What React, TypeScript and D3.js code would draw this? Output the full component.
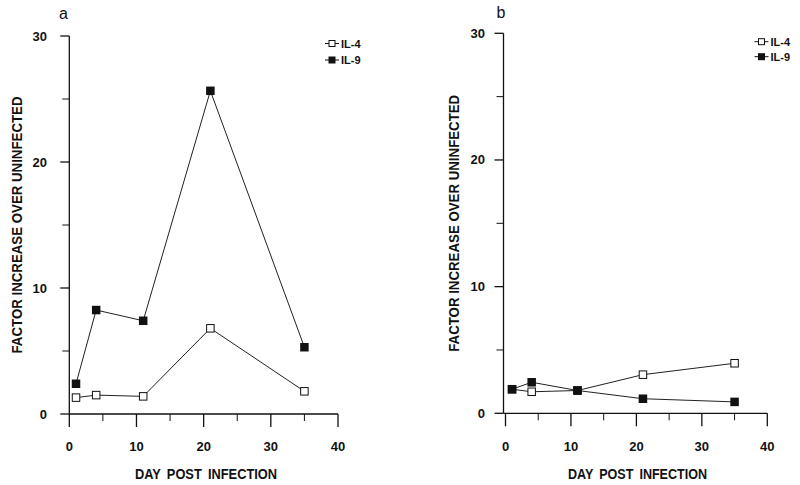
import React from 'react';
import * as d3 from 'd3';

const days = [1, 4, 11, 21, 35];
const il4A = [1.3, 1.5, 1.4, 6.8, 1.8];
const il9A = [2.4, 8.25, 7.4, 25.65, 5.3];
const il4B = [1.9, 1.7, 1.8, 3.05, 3.95];
const il9B = [1.9, 2.45, 1.8, 1.15, 0.9];
const xTicks = [0, 10, 20, 30, 40];
const xMinor = [5, 15, 25, 35];
const yTicks = [0, 10, 20, 30];
const yMinor = [5, 15, 25];
const seriesNames = ['IL-4', 'IL-9'];
const panelLabels = ['a', 'b'];
const xTitle = 'DAY POST INFECTION';
const yTitle = 'FACTOR INCREASE OVER UNINFECTED';

const FONT = '"Liberation Sans", Arial, Helvetica, sans-serif';

type PanelProps = {
  il4: number[];
  il9: number[];
  label: string;
  x0: number; x1: number; y0: number; y1: number;
  axisX: number;
  yLabelX: number;
  yTitleX: number;
  xTitleX: number;
  xTitleW: number;
  legX: number; legY: number; legDy: number;
  labelX: number; labelY: number;
};

function Panel(p: PanelProps) {
  const x = d3.scaleLinear().domain([0, 40]).range([p.x0, p.x1]);
  const y = d3.scaleLinear().domain([0, 30]).range([p.y0, p.y1]);
  const line = d3.line<[number, number]>().x(d => x(d[0])).y(d => y(d[1]));
  const s4 = days.map((d, i) => [d, p.il4[i]] as [number, number]);
  const s9 = days.map((d, i) => [d, p.il9[i]] as [number, number]);
  const yTitleY = (y(0) + y(30)) / 2 + 13;
  const ms = 7.5;
  return (
    <g fontFamily={FONT} fill="#111">
      {/* panel label */}
      <text x={p.labelX} y={p.labelY} fontSize={16}>{p.label}</text>
      {/* y axis */}
      <line x1={p.axisX} x2={p.axisX} y1={y(30)} y2={y(0)} stroke="#111" strokeWidth={1.3} />
      {yTicks.map(t => (
        <line key={'yt' + t} x1={p.axisX - 9} x2={p.axisX} y1={y(t)} y2={y(t)} stroke="#111" strokeWidth={1.3} />
      ))}
      {yMinor.map(t => (
        <line key={'ym' + t} x1={p.axisX - 7} x2={p.axisX} y1={y(t)} y2={y(t)} stroke="#111" strokeWidth={1} />
      ))}
      {yTicks.map(t => (
        <text key={'yl' + t} x={p.yLabelX} y={y(t) + 4.5} fontSize={13} fontWeight="bold" textAnchor="end">{t}</text>
      ))}
      {/* x axis */}
      <line x1={p.axisX} x2={x(40)} y1={y(0)} y2={y(0)} stroke="#111" strokeWidth={1.3} />
      {xTicks.map(t => (
        <line key={'xt' + t} x1={x(t)} x2={x(t)} y1={y(0)} y2={y(0) + 13} stroke="#111" strokeWidth={1.3} />
      ))}
      {xMinor.map(t => (
        <line key={'xm' + t} x1={x(t)} x2={x(t)} y1={y(0)} y2={y(0) + 7} stroke="#111" strokeWidth={1} />
      ))}
      {xTicks.map(t => (
        <text key={'xl' + t} x={x(t)} y={451} fontSize={13} fontWeight="bold" textAnchor="middle">{t}</text>
      ))}
      {/* titles */}
      <text x={p.xTitleX} y={479} fontSize={14.5} fontWeight="bold" textAnchor="middle"
        textLength={p.xTitleW} lengthAdjust="spacingAndGlyphs" wordSpacing={3}>{xTitle}</text>
      <text transform={`translate(${p.yTitleX},${yTitleY - 13}) rotate(-90)`} x={0} y={0} fontSize={14.5}
        fontWeight="bold" textAnchor="middle" dominantBaseline="central" textLength={257} lengthAdjust="spacingAndGlyphs">{yTitle}</text>
      {/* series */}
      <path d={line(s4) || ''} fill="none" stroke="#222" strokeWidth={1} />
      <path d={line(s9) || ''} fill="none" stroke="#222" strokeWidth={1} />
      {s4.map((d, i) => (
        <rect key={'m4' + i} x={x(d[0]) - ms / 2} y={y(d[1]) - ms / 2} width={ms} height={ms} fill="#fff" stroke="#111" strokeWidth={1} />
      ))}
      {s9.map((d, i) => (
        <rect key={'m9' + i} x={x(d[0]) - ms / 2 - 0.5} y={y(d[1]) - ms / 2 - 0.5} width={ms + 1} height={ms + 1} fill="#111" />
      ))}
      {/* legend */}
      {seriesNames.map((n, i) => {
        const ly = p.legY + i * p.legDy;
        return (
          <g key={'lg' + n}>
            <line x1={p.legX - 7} x2={p.legX + 7} y1={ly} y2={ly} stroke="#111" strokeWidth={1} />
            {i === 0 ? (
              <rect x={p.legX - 3} y={ly - 3} width={6} height={6} fill="#fff" stroke="#111" strokeWidth={1} />
            ) : (
              <rect x={p.legX - 3.5} y={ly - 3.5} width={7} height={7} fill="#111" />
            )}
            <text x={p.legX + 9} y={ly + 4} fontSize={11} fontWeight="bold">{n}</text>
          </g>
        );
      })}
    </g>
  );
}

export default function App() {
  return (
    <svg width={800} height={485} style={{ position: 'absolute', left: 0, top: 0, background: '#fff' }}>
      <rect x={0} y={0} width={800} height={485} fill="#fff" />
      <Panel il4={il4A} il9={il9A} label={panelLabels[0]}
        x0={69.3} x1={338} y0={414} y1={36} axisX={69.3}
        yLabelX={47} yTitleX={17} xTitleX={206} xTitleW={142}
        legX={332} legY={43.5} legDy={16.5} labelX={59} labelY={18.5} />
      <Panel il4={il4B} il9={il9B} label={panelLabels[1]}
        x0={505.5} x1={767.3} y0={413.3} y1={33.3} axisX={503.5}
        yLabelX={485} yTitleX={454} xTitleX={637.5} xTitleW={139}
        legX={761.5} legY={41.7} legDy={15} labelX={496.5} labelY={17.5} />
    </svg>
  );
}
